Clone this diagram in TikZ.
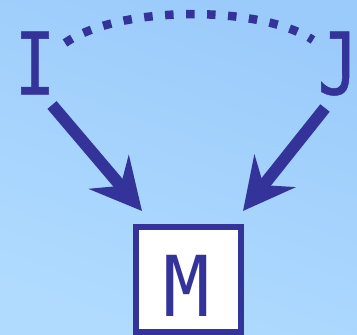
\documentclass[tikz,border=0pt]{standalone}
\usepackage{fontspec}
\newfontfamily\dvmn[FakeStretch=0.78,FakeBold=0.6]{DejaVu Sans Mono}
\newfontfamily\dvmm[FakeStretch=0.92]{DejaVu Sans Mono}
\usetikzlibrary{arrows.meta}
\definecolor{ink}{HTML}{333399}
\definecolor{bgtop}{HTML}{9BCBFB}
\definecolor{bgbot}{HTML}{B0DBFF}
\tikzset{
  letter/.style={inner sep=0pt, anchor=base, text=ink, font=\dvmn\fontsize{86}{90}\selectfont},
  mletter/.style={inner sep=0pt, anchor=base, text=ink, font=\dvmm\fontsize{84}{90}\selectfont},
  arrowline/.style={draw=ink, line width=12pt, -{Stealth[length=51pt,width=52pt,inset=18pt]}},
  dotline/.style={draw=ink, line width=8.5pt, dash pattern=on 8.5pt off 12.5pt},
  mbox/.style={draw=ink, fill=white, line width=5.5pt, minimum width=105pt, minimum height=105pt, inner sep=0pt}
}
\begin{document}
\begin{tikzpicture}[x=1pt,y=-1pt]
\useasboundingbox (0,0) rectangle (357,335);
\shade[top color=bgtop, bottom color=bgbot, shading angle=-20] (0,0) rectangle (357,335);
\node[letter] (I) at (35,94.3) {I};
\node[letter] (J) at (338,94.3) {J};
\node[mbox] (Mb) at (188.5,279.5) {};
\node[mletter] (M) at (187,316) {M};
\coordinate (i1) at (52,105);
\coordinate (i2) at (142,211);
\coordinate (j1) at (325,108);
\coordinate (j2) at (243,211);
\coordinate (d1) at (65,43);
\coordinate (d2) at (313,40);
\draw[arrowline] (i1) -- (i2);
\draw[arrowline] (j1) -- (j2);
\draw[dotline] (d1) .. controls (120,5) and (260,5) .. (d2);
\end{tikzpicture}
\end{document}
